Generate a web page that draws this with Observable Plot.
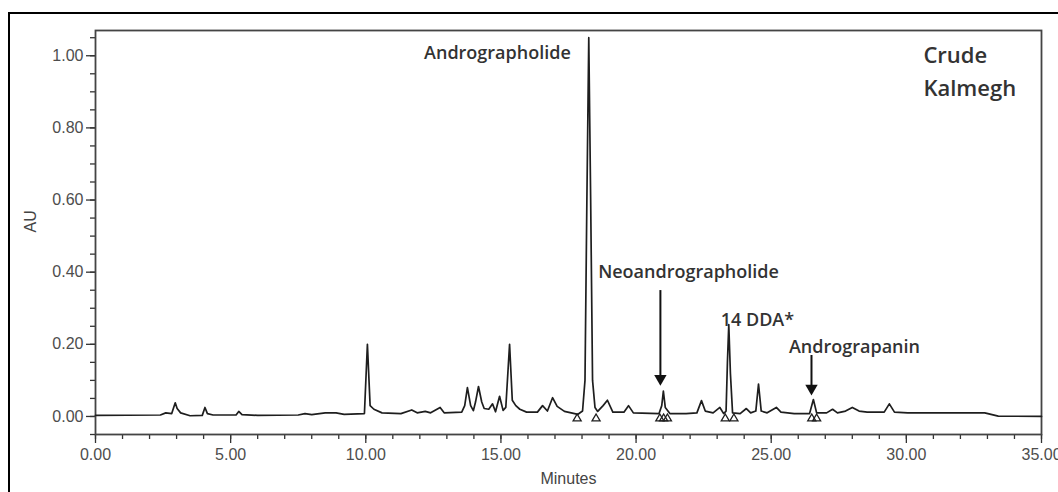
<!DOCTYPE html>
<html>
<head>
<meta charset="utf-8">
<script src="https://cdn.jsdelivr.net/npm/d3@7"></script>
<script src="https://cdn.jsdelivr.net/npm/@observablehq/plot@0.6"></script>
<style>
  html, body { margin: 0; padding: 0; background: #fff; overflow: hidden; }
  #wrap { position: relative; width: 1058px; height: 492px; }
  #border { position: absolute; left: 8px; top: 12px; width: 1070px; height: 500px; border: 2px solid #000; box-sizing: border-box; }
  #chart { position: absolute; left: 0; top: 0; }
</style>
</head>
<body>
<div id="wrap"><div id="border"></div><div id="chart"></div></div>
<script>
// Chromatogram trace: [minutes, AU]
const tracePoints = [
  [0,0.003],[2.4,0.004],[2.6,0.01],[2.82,0.008],[2.95,0.038],[3.02,0.022],[3.15,0.01],[3.5,0.002],
  [3.95,0.003],[4.05,0.025],[4.14,0.008],[4.35,0.004],[5.2,0.004],[5.3,0.014],[5.42,0.005],[6.0,0.003],
  [7.5,0.004],[7.75,0.008],[8.0,0.005],[8.5,0.01],[8.9,0.01],[9.2,0.006],[9.95,0.008],[10.06,0.2],
  [10.16,0.03],[10.3,0.02],[10.6,0.01],[11.3,0.008],[11.7,0.018],[11.9,0.01],[12.2,0.014],[12.4,0.01],
  [12.75,0.025],[12.9,0.01],[13.55,0.012],[13.66,0.03],[13.76,0.08],[13.88,0.03],[13.98,0.016],[14.06,0.04],
  [14.17,0.083],[14.29,0.04],[14.38,0.022],[14.55,0.02],[14.69,0.035],[14.8,0.013],[14.95,0.056],[15.08,0.017],
  [15.18,0.025],[15.32,0.2],[15.42,0.045],[15.55,0.03],[15.7,0.02],[15.95,0.012],[16.35,0.012],[16.54,0.03],
  [16.72,0.015],[16.91,0.052],[17.08,0.028],[17.35,0.014],[17.85,0.006],[18.02,0.015],[18.11,0.1],[18.18,0.6],
  [18.25,1.05],[18.32,0.6],[18.39,0.1],[18.48,0.025],[18.58,0.014],[18.78,0.03],[18.94,0.045],[19.14,0.012],
  [19.55,0.012],[19.72,0.03],[19.9,0.01],[20.85,0.008],[20.95,0.03],[21.01,0.07],[21.08,0.025],[21.25,0.008],
  [21.85,0.008],[22.25,0.01],[22.42,0.044],[22.56,0.015],[22.85,0.01],[23.1,0.025],[23.24,0.008],[23.33,0.015],
  [23.38,0.15],[23.43,0.255],[23.49,0.12],[23.57,0.01],[23.85,0.008],[24.08,0.022],[24.24,0.01],[24.43,0.015],
  [24.53,0.09],[24.63,0.015],[24.85,0.01],[25.19,0.025],[25.36,0.012],[25.85,0.008],[26.42,0.008],[26.56,0.047],
  [26.68,0.01],[27.05,0.01],[27.27,0.02],[27.45,0.01],[27.75,0.015],[28.0,0.025],[28.25,0.015],[28.55,0.012],
  [29.18,0.012],[29.37,0.035],[29.56,0.012],[30.05,0.01],[32.9,0.01],[33.4,0.001],[35,0]
];

// Integration markers (small triangles below the baseline)
const markerTimes = [17.82, 18.52, 20.88, 21.02, 21.16, 23.3, 23.62, 26.5, 26.68];
const markerAU = -0.006;

// Peak annotations
const labelText = ["Andrographolide", "Neoandrographolide", "14 DDA*", "Andrograpanin"];
const labelX = [14.87, 21.94, 24.49, 28.08];
const labelY = [1.008, 0.399, 0.266, 0.191];

// Sample name
const sampleText = ["Crude", "Kalmegh"];
const sampleX = [30.63, 30.63];
const sampleY = [1.0, 0.909];

// Arrows: x, shaft top, shaft bottom (head centre)
const arrowX = [20.9, 26.49];
const arrowTop = [0.349, 0.169];
const arrowHead = [0.105, 0.078];

// Axis ticks
const xMajorTicks = [0, 5, 10, 15, 20, 25, 30, 35];
const xMinorTicks = d3.range(0, 36, 1);
const yMajorTicks = [0, 0.2, 0.4, 0.6, 0.8, 1.0];
const yMinorTicks = d3.range(-0.05, 1.0501, 0.05);

const trace = tracePoints.map(([t, au]) => ({t, au}));
const markers = markerTimes.map(t => ({t, au: markerAU}));
const labels = labelText.map((s, i) => ({s, x: labelX[i], y: labelY[i]}));
const sample = sampleText.map((s, i) => ({s, x: sampleX[i], y: sampleY[i]}));
const arrows = arrowX.map((x, i) => ({x, y1: arrowTop[i], y2: arrowHead[i]}));

const chart = Plot.plot({
  width: 1058,
  height: 492,
  marginLeft: 95,
  marginRight: 17,
  marginTop: 30,
  marginBottom: 58,
  x: {domain: [0, 35]},
  y: {domain: [-0.05, 1.07]},
  style: {fontFamily: "'Liberation Sans', Arial, sans-serif", fontSize: "16px", background: "transparent", color: "#333"},
  marks: [
    Plot.axisX({ticks: xMinorTicks, tickSize: 5, tickFormat: () => "", label: null, stroke: "#333", strokeWidth: 1.3}),
    Plot.axisX({ticks: xMajorTicks, tickSize: 9, tickPadding: 5, tickFormat: d3.format(".2f"), label: null, stroke: "#333", strokeWidth: 1.3, fill: "#4d4d4d"}),
    Plot.axisY({ticks: yMinorTicks, tickSize: 5, tickFormat: () => "", label: null, stroke: "#333", strokeWidth: 1.3}),
    Plot.axisY({ticks: yMajorTicks, tickSize: 9, tickPadding: 3, tickFormat: d3.format(".2f"), label: null, stroke: "#333", strokeWidth: 1.3, fill: "#4d4d4d"}),
    Plot.frame({stroke: "#444", strokeWidth: 1.8}),
    Plot.line(trace, {x: "t", y: "au", stroke: "#1e1e1e", strokeWidth: 1.7}),
    Plot.dot(markers, {x: "t", y: "au", symbol: "triangle", r: 3, stroke: "#1e1e1e", strokeWidth: 1.3, fill: "none"}),
    Plot.ruleX(arrows, {x: "x", y1: "y1", y2: "y2", stroke: "#111", strokeWidth: 2}),
    Plot.dot(arrows, {x: "x", y: "y2", symbol: "triangle", r: 4.6, rotate: 180, fill: "#111", stroke: "none"}),
    Plot.text(labels, {x: "x", y: "y", text: "s", textAnchor: "middle", fontFamily: "'Open Sans', sans-serif", fontWeight: 600, fontSize: 18, fill: "#333"}),
    Plot.text(sample, {x: "x", y: "y", text: "s", textAnchor: "start", fontFamily: "'Open Sans', sans-serif", fontWeight: 600, fontSize: 22, fill: "#333"}),
    Plot.text(["Minutes"], {frameAnchor: "bottom", dy: 49, fill: "#444", fontSize: 16}),
    Plot.text(["AU"], {frameAnchor: "left", dx: -65, rotate: -90, fill: "#444", fontSize: 16})
  ]
});
document.getElementById("chart").appendChild(chart);
</script>
</body>
</html>
